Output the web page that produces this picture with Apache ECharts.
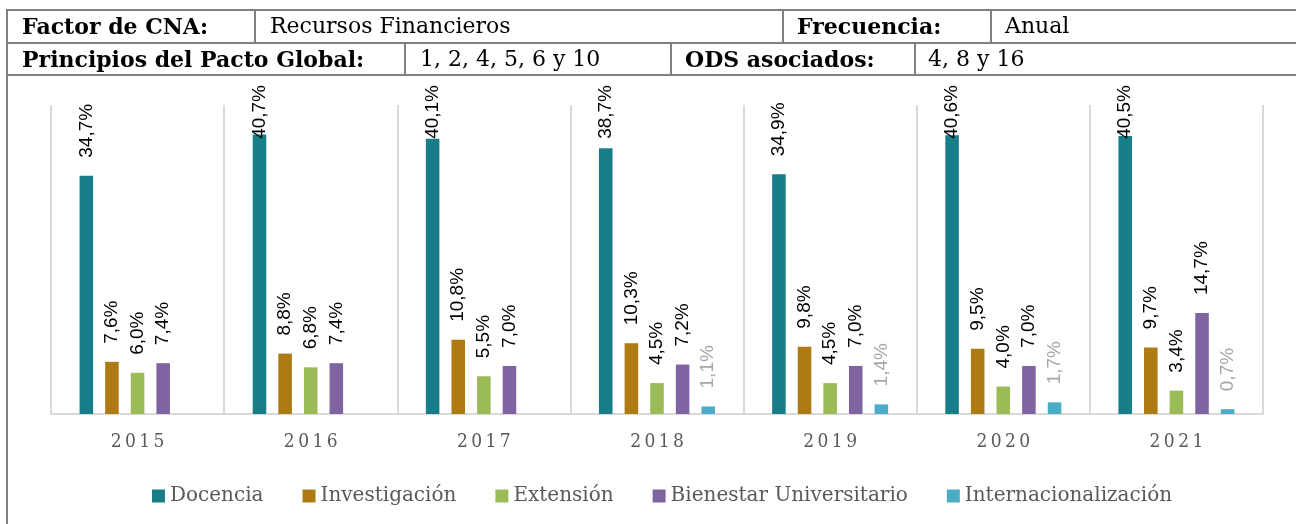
<!DOCTYPE html>
<html>
<head>
<meta charset="utf-8">
<script src="https://cdn.jsdelivr.net/npm/echarts@6/dist/echarts.min.js"></script>
<style>
  html, body { margin: 0; padding: 0; background: #fff; }
  #wrap { position: relative; width: 1296px; height: 524px; overflow: hidden; background: #fff; }
  #chart { position: absolute; left: 0; top: 0; width: 1296px; height: 524px; }
  .hl { position: absolute; height: 2px; background: #808080; left: 7px; right: 0; }
  .vl { position: absolute; width: 2px; background: #808080; }
  .cell { position: absolute; font-family: "DejaVu Serif", serif; font-size: 22px; color: #000; line-height: 32px; white-space: nowrap; }
  .cell.b { font-weight: bold; }
</style>
</head>
<body>
<div id="wrap">
  <div id="chart"></div>
  <div class="hl" style="top:9px"></div>
  <div class="hl" style="top:42px"></div>
  <div class="hl" style="top:74px"></div>
  <div class="vl" style="left:6px;top:9px;height:515px"></div>
  <div class="vl" style="left:254px;top:9px;height:34px"></div>
  <div class="vl" style="left:782px;top:9px;height:34px"></div>
  <div class="vl" style="left:990px;top:9px;height:34px"></div>
  <div class="vl" style="left:404px;top:42px;height:34px"></div>
  <div class="vl" style="left:670px;top:42px;height:34px"></div>
  <div class="vl" style="left:914px;top:42px;height:34px"></div>
  <div class="cell b" style="left:22px;top:10px">Factor de CNA:</div>
  <div class="cell" style="left:270px;top:10px">Recursos Financieros</div>
  <div class="cell b" style="left:797px;top:10px">Frecuencia:</div>
  <div class="cell" style="left:1005px;top:10px">Anual</div>
  <div class="cell b" style="left:22px;top:43px">Principios del Pacto Global:</div>
  <div class="cell" style="left:420px;top:43px">1, 2, 4, 5, 6 y 10</div>
  <div class="cell b" style="left:685px;top:43px">ODS asociados:</div>
  <div class="cell" style="left:928px;top:43px">4, 8 y 16</div>
</div>
<script>
  // años
  var years = ['2015', '2016', '2017', '2018', '2019', '2020', '2021'];
  var seriesNames = ['Docencia', 'Investigación', 'Extensión', 'Bienestar Universitario', 'Internacionalización'];
  // porcentajes por área
  var docencia = [34.7, 40.7, 40.1, 38.7, 34.9, 40.6, 40.5];
  var investigacion = [7.6, 8.8, 10.8, 10.3, 9.8, 9.5, 9.7];
  var extension = [6.0, 6.8, 5.5, 4.5, 4.5, 4.0, 3.4];
  var bienestar = [7.4, 7.4, 7.0, 7.2, 7.0, 7.0, 14.7];
  var internacionalizacion = [null, null, null, 1.1, 1.4, 1.7, 0.7];

  var colors = ['#177E89', '#AD7A13', '#9BBB59', '#8064A2', '#4BACC6'];
  var allData = [docencia, investigacion, extension, bienestar, internacionalizacion];

  var labelFont = '"Liberation Sans", "DejaVu Sans", sans-serif';
  var labelSize = 19;
  var labelDist = 18;
  var labelTop = 85;   // las etiquetas no suben de aquí
  var serif = '"DejaVu Serif", serif';

  function pct(v) {
    return v.toFixed(1).replace('.', ',') + '%';
  }

  var ctx = document.createElement('canvas').getContext('2d');
  ctx.font = labelSize + 'px ' + labelFont;

  function makeSeries(withItems) {
    return seriesNames.map(function (name, i) {
      var data = allData[i];
      if (withItems) {
        // baja la etiqueta si se sale por arriba del área
        data = allData[i].map(function (v, j) {
          if (v == null) return null;
          var barTop = chart.convertToPixel({ gridIndex: 0 }, [j, v])[1];
          var len = ctx.measureText(pct(v)).width;
          var top = barTop - labelDist - len;
          var d = top < labelTop ? labelDist - (labelTop - top) : labelDist;
          return { value: v, label: { distance: d } };
        });
      }
      return {
        name: name,
        type: 'bar',
        data: data,
        itemStyle: { color: colors[i] },
        barGap: '89%',
        barCategoryGap: '33%',
        label: {
          show: true,
          position: 'top',
          distance: labelDist,
          rotate: 90,
          align: 'left',
          verticalAlign: 'middle',
          fontSize: labelSize,
          fontFamily: labelFont,
          color: i === 4 ? '#a6a6a6' : '#000',
          formatter: function (p) { return pct(p.value); }
        }
      };
    });
  }

  var chart = echarts.init(document.getElementById('chart'));
  chart.setOption({
    animation: false,
    color: colors,
    grid: { left: 51, right: 33, top: 105, bottom: 110 },
    legend: {
      data: seriesNames,
      top: 481,
      left: 147,
      itemWidth: 13,
      itemHeight: 13,
      itemGap: 39,
      icon: 'rect',
      textStyle: { fontSize: 20, color: '#595959', fontFamily: serif }
    },
    xAxis: {
      type: 'category',
      data: years,
      axisLine: { lineStyle: { color: '#d9d9d9', width: 2 } },
      axisTick: { show: false },
      splitLine: { show: true, lineStyle: { color: '#d9d9d9', width: 2 } },
      axisLabel: {
        margin: 19,
        fontSize: 19,
        color: '#595959',
        fontFamily: '"DejaVu Serif Condensed", serif',
        formatter: function (v) { return v.split('').join('\u2009'); }
      }
    },
    yAxis: {
      type: 'value',
      min: 0,
      max: 45,
      show: false,
      splitLine: { show: false }
    },
    series: makeSeries(false)
  });
  chart.setOption({ series: makeSeries(true) });
</script>
</body>
</html>
